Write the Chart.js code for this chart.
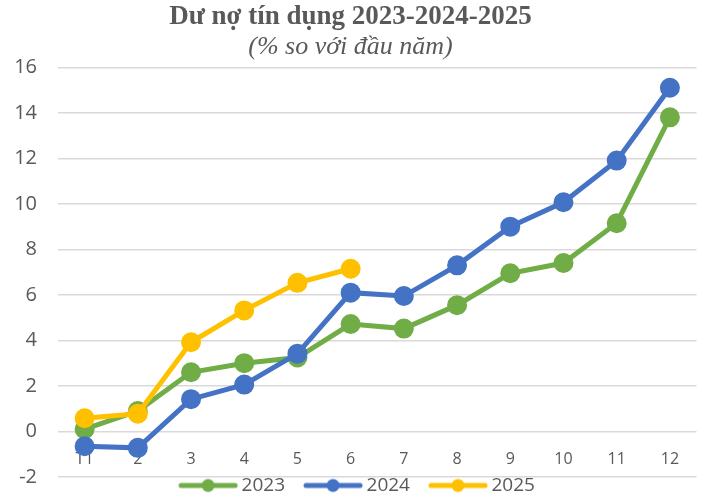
<!DOCTYPE html>
<html>
<head>
<meta charset="utf-8">
<script src="https://cdn.jsdelivr.net/npm/chart.js@4/dist/chart.umd.min.js"></script>
<style>
html,body{margin:0;padding:0;background:#fff;}
#wrap{width:709px;height:502px;}
</style>
</head>
<body>
<div id="wrap"><canvas id="c" width="709" height="502"></canvas></div>
<script>
const categories = ['T1','2','3','4','5','6','7','8','9','10','11','12'];
const s2023 = [0.1, 0.9, 2.6, 3.0, 3.25, 4.72, 4.52, 5.55, 6.95, 7.4, 9.15, 13.8];
const s2024 = [-0.65, -0.72, 1.42, 2.06, 3.42, 6.1, 5.95, 7.3, 9.0, 10.07, 11.9, 15.1];
const s2025 = [0.58, 0.78, 3.92, 5.32, 6.53, 7.15, null, null, null, null, null, null];
const yTicks = [-2, 0, 2, 4, 6, 8, 10, 12, 14, 16];
const titleText = 'Dư nợ tín dụng 2023-2024-2025';
const subtitleText = '(% so với đầu năm)';

const colors = {'2023':'#70AD47','2024':'#4472C4','2025':'#FFC000'};
const LEG_PAD = 24, LEG_H = 20, LEG_DX = 9;

function legendIcon(color){
  const cv = document.createElement('canvas');
  cv.width = 62; cv.height = 16;
  const g = cv.getContext('2d');
  g.strokeStyle = color; g.lineWidth = 5; g.lineCap = 'round';
  g.beginPath(); g.moveTo(4,8); g.lineTo(58,8); g.stroke();
  g.fillStyle = color; g.beginPath(); g.arc(31,8,6.5,0,Math.PI*2); g.fill();
  return cv;
}

function ds(label, data){
  return {
    label, data,
    borderColor: colors[label], backgroundColor: colors[label],
    pointBackgroundColor: colors[label], pointBorderColor: colors[label],
    borderWidth: 5, pointRadius: 7.5, pointHoverRadius: 7.5,
    tension: 0, spanGaps: false
  };
}

const legendPatch = {
  id: 'legendPatch',
  beforeLayout(chart){
    const lg = chart.legend;
    if (!lg || lg._patched) return;
    lg._patched = true;
    const fit = lg.fit.bind(lg);
    lg.fit = function(){ fit(); this.height = LEG_H; };
    const draw = lg.draw.bind(lg);
    lg.draw = function(){
      const t = this.top, l = this.left, r = this.right;
      this.top = t - LEG_PAD - 1;
      this.left = l + LEG_DX; this.right = r + LEG_DX;
      draw();
      this.top = t; this.left = l; this.right = r;
    };
  }
};

new Chart(document.getElementById('c'), {
  type: 'line',
  data: { labels: categories, datasets: [ds('2025', s2025), ds('2024', s2024), ds('2023', s2023)] },
  plugins: [legendPatch],
  options: {
    responsive: false,
    animation: false,
    layout: { padding: { left: 0, right: 8, top: 0, bottom: 5 } },
    plugins: {
      title: { display: true, text: titleText, color: '#595959',
        font: { family: 'Liberation Serif', size: 27, weight: 'bold', lineHeight: 1.1 }, padding: { top: 2, bottom: 0 } },
      subtitle: { display: true, text: subtitleText, color: '#595959',
        font: { family: 'Liberation Serif', size: 26, style: 'italic', lineHeight: 1.1 }, padding: { top: 1, bottom: 6 } },
      legend: {
        position: 'bottom',
        reverse: true,
        labels: {
          color: '#595959',
          font: { family: 'Open Sans', size: 19 },
          usePointStyle: true,
          pointStyleWidth: 48,
          boxHeight: 16,
          padding: LEG_PAD,
          generateLabels(chart){
            return chart.data.datasets.map((d,i)=>({
              text: d.label, fontColor: '#595959', pointStyle: legendIcon(d.borderColor),
              fillStyle: d.borderColor, strokeStyle: d.borderColor, lineWidth: 0, hidden: false, datasetIndex: i
            }));
          }
        }
      },
      tooltip: { enabled: false }
    },
    scales: {
      x: {
        position: { y: 0 },
        offset: true,
        grid: { display: false, drawTicks: false },
        border: { display: false },
        ticks: { color: '#595959', font: { family: 'Open Sans', size: 16 }, padding: 18 },
        afterFit(scale){ scale.height = 0; scale.paddingTop = 0; scale.paddingBottom = 0; }
      },
      y: {
        min: -2, max: 16,
        afterBuildTicks(axis){ axis.ticks = yTicks.map(v=>({value:v})); },
        afterFit(scale){ scale.width = 58; scale.paddingTop = 0; scale.paddingBottom = 0; },
        grid: { color: '#d9d9d9', lineWidth: 1.5, drawTicks: false },
        border: { display: false },
        ticks: { color: '#595959', font: { family: 'Open Sans', size: 20 }, padding: 21 }
      }
    }
  }
});
</script>
</body>
</html>
